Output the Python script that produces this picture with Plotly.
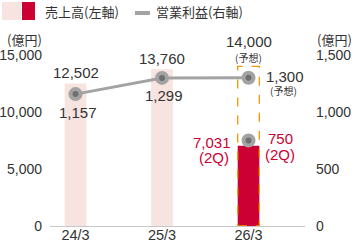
import plotly.graph_objects as go

categories = ["24/3", "25/3", "26/3"]
sales_actual = [12502, 13760, None]        # 売上高 (left axis)
sales_forecast_26 = 14000                  # 26/3 予想
sales_2q_26 = 7031                         # 26/3 2Q実績
op_profit = [1157, 1299, 1300]             # 営業利益 (right axis), 26/3 = 予想
op_profit_2q_26 = 750
left_ticks = [0, 5000, 10000, 15000]
right_ticks = [0, 500, 1000, 1500]

PINK = "#f7e3df"
RED = "#cc0033"
GRAY_LINE = "#a3a3a3"
MARK_IN = "#6f6f6f"
ORANGE = "#f39800"
TXT = "#333333"
NUM_FONT = "Liberation Sans, Arial, sans-serif"
JP_FONT = "Noto Sans CJK JP, sans-serif"

W, H = 355, 245
L, R, T, B = 50, 50, 55, 19
PW, PH = W - L - R, H - T - B
BAR_W = 0.25


def px(x):
    return (x - L) / PW


def py(y):
    return (H - B - y) / PH


xs = list(range(len(categories)))
fig = go.Figure()

fig.add_trace(go.Bar(x=xs, y=sales_actual, width=BAR_W, marker=dict(color=PINK, line=dict(width=0)),
                     yaxis="y", showlegend=False, hoverinfo="skip"))
fig.add_trace(go.Bar(x=[xs[2]], y=[sales_2q_26], width=BAR_W, marker=dict(color=RED, line=dict(width=0)),
                     yaxis="y", showlegend=False, hoverinfo="skip"))
marker_style = dict(size=10, color=MARK_IN, line=dict(color=GRAY_LINE, width=4))
fig.add_trace(go.Scatter(x=xs, y=op_profit, mode="lines+markers", yaxis="y2",
                         line=dict(color=GRAY_LINE, width=3), marker=marker_style,
                         showlegend=False, hoverinfo="skip"))
fig.add_trace(go.Scatter(x=[xs[2]], y=[op_profit_2q_26], mode="markers", yaxis="y2",
                         marker=marker_style, showlegend=False, hoverinfo="skip"))

shapes = []
shapes.append(dict(type="rect", xref="x", yref="y", x0=xs[2] - BAR_W / 2, x1=xs[2] + BAR_W / 2,
                   y0=0, y1=sales_forecast_26, line=dict(color=ORANGE, width=1.3, dash="dash"),
                   fillcolor="rgba(0,0,0,0)", layer="above"))
shapes.append(dict(type="rect", xref="paper", yref="paper", x0=px(2), x1=px(21), y0=py(20), y1=py(2),
                   fillcolor=PINK, line=dict(width=0)))
shapes.append(dict(type="rect", xref="paper", yref="paper", x0=px(22), x1=px(35), y0=py(20), y1=py(2),
                   fillcolor=RED, line=dict(width=0)))
shapes.append(dict(type="line", xref="paper", yref="paper", x0=px(135), x1=px(150), y0=py(13), y1=py(13),
                   line=dict(color=GRAY_LINE, width=4)))

ann = []


def A(text, x, y, xref="x", yref="y", xanchor="center", yanchor="middle", xshift=0, yshift=0,
      size=15, color=TXT, family=NUM_FONT):
    ann.append(dict(text=text, x=x, y=y, xref=xref, yref=yref, xanchor=xanchor, yanchor=yanchor,
                    xshift=xshift, yshift=yshift, showarrow=False,
                    font=dict(size=size, color=color, family=family)))


for i in range(2):
    A(f"{sales_actual[i]:,}", xs[i], sales_actual[i], yshift=11)
A(f"{sales_forecast_26:,}", xs[2], sales_forecast_26, yshift=25)
A("(予想)", xs[2], sales_forecast_26, yshift=9, size=10, family=JP_FONT)
A(f"{sales_2q_26:,}", xs[2], sales_2q_26, xanchor="right", xshift=-16, yshift=3, color=RED)
A("(2Q)", xs[2], sales_2q_26, xshift=-35, yshift=-12, color=RED)
for i in range(2):
    A(f"{op_profit[i]:,}", xs[i], op_profit[i], yref="y2", xshift=2, yshift=-18)
A(f"{op_profit[2]:,}", xs[2], op_profit[2], yref="y2", xanchor="left", xshift=15, yshift=1)
A("(予想)", xs[2], op_profit[2], yref="y2", xshift=35, yshift=-13, size=10, family=JP_FONT)
A(f"{op_profit_2q_26:,}", xs[2], op_profit_2q_26, yref="y2", xanchor="left", xshift=17, yshift=2, color=RED)
A("(2Q)", xs[2], op_profit_2q_26, yref="y2", xshift=31, yshift=-14, color=RED)

A("(億円)", px(44), py(40), xref="paper", yref="paper", xanchor="right", size=13, family=JP_FONT)
A("(億円)", px(315), py(40), xref="paper", yref="paper", xanchor="left", size=13, family=JP_FONT)
A("売上高(左軸)", px(43), py(11), xref="paper", yref="paper", xanchor="left", size=13, family=JP_FONT)
A("営業利益(右軸)", px(154), py(11), xref="paper", yref="paper", xanchor="left", size=13, family=JP_FONT)

fig.update_layout(
    width=W, height=H, margin=dict(l=L, r=R, t=T, b=B, pad=0, autoexpand=False),
    paper_bgcolor="white", plot_bgcolor="white", barmode="overlay",
    font=dict(family=NUM_FONT, color=TXT, size=14),
    shapes=shapes, annotations=ann,
    xaxis=dict(range=[-0.295, 2.653], tickvals=xs, ticktext=categories, showgrid=False, zeroline=False,
               showline=True, linecolor="#c8c8c8", linewidth=1, ticks="", ticklabelstandoff=-4,
               tickfont=dict(size=14.5, color=TXT), fixedrange=True, automargin=False),
    yaxis=dict(range=[0, 15000], tickvals=left_ticks, tickformat=",", showgrid=False, zeroline=False,
               showline=False, ticks="", ticklabelstandoff=7, tickfont=dict(size=14, color=TXT),
               automargin=False),
    yaxis2=dict(range=[0, 1500], tickvals=right_ticks, tickformat=",", overlaying="y", side="right",
                showgrid=False, zeroline=False, showline=False, ticks="", ticklabelstandoff=10,
                tickfont=dict(size=14, color=TXT), automargin=False),
)

fig.write_html("out.html")
